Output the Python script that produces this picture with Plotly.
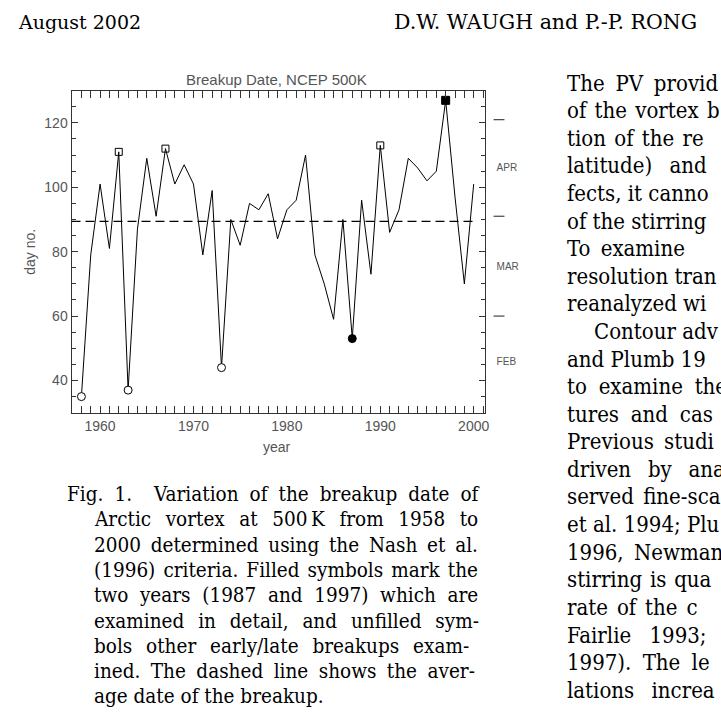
import plotly.graph_objects as go

W, H = 721, 712

years = list(range(1958, 2001))
days = [35, 79, 101, 81, 111, 37, 87, 109, 91, 112,
        101, 107, 101, 79, 99, 44, 90, 82, 95, 93,
        98, 84, 93, 96, 110, 79, 70, 59, 90, 53,
        96, 73, 113, 86, 93, 109, 106, 102, 105, 127,
        97, 70, 101]

open_circle_years = [1958, 1963, 1973]
open_square_years = [1962, 1967, 1990]
filled_circle_years = [1987]
filled_square_years = [1997]

month_bounds = [60, 91, 121]
month_mids = [46, 75.5, 106]
month_names = ["FEB", "MAR", "APR"]

caption = [
    "Fig. 1.\u00a0 Variation of the breakup date of",
    "Arctic vortex at 500\u2009K from 1958 to",
    "2000 determined using the Nash et al.",
    "(1996) criteria. Filled symbols mark the",
    "two years (1987 and 1997) which are",
    "examined in detail, and unfilled sym-",
    "bols other early/late breakups exam-",
    "ined. The dashed line shows the aver-",
    "age date of the breakup.",
]

body = [
    "The PV provid", "of the vortex b", "tion of the re", "latitude) and",
    "fects, it canno", "of the stirring", "To examine", "resolution tran",
    "reanalyzed wi", "Contour adv", "and Plumb 19", "to examine the",
    "tures and cas", "Previous studi", "driven by ana", "served fine-sca",
    "et al. 1994; Plu", "1996, Newman", "stirring is qua", "rate of the c",
    "Fairlie 1993;", "1997). The le", "lations increa",
]

# extra word spacing (px) that justifies each printed line
caption_ws = [5.2, 8.7, 3.9, 2.2, 5.8, 8, 8, 4.6, 0]
body_ws = [4.5, 2, 2, 11, 0, 0, 4, 0, 0, 0, 0, 5.5,
           5.5, 4, 10.5, 3, 0, 4, 1.5, 2.7, 12, 5, 11]

mean_day = sum(days) / len(days)


def px(x):
    return x / W


def py(y):
    return 1 - y / H


def pick(sel):
    return [d for yr, d in zip(years, days) if yr in sel]


fig = go.Figure()

fig.add_trace(go.Scatter(x=years, y=days, mode="lines",
                         line=dict(color="black", width=1), showlegend=False))

marker_sets = [
    (open_circle_years, "circle", "white", 8),
    (open_square_years, "square-open", "black", 7),
    (filled_circle_years, "circle", "black", 8),
    (filled_square_years, "square", "black", 8),
]
for sel, sym, fill, size in marker_sets:
    fig.add_trace(go.Scatter(
        x=sel, y=pick(sel), mode="markers", showlegend=False,
        marker=dict(symbol=sym, size=size, color=fill,
                    line=dict(color="black", width=1))))

# dummy trace so the right-hand month axis is drawn
fig.add_trace(go.Scatter(x=[None], y=[None], yaxis="y2", showlegend=False))

# average line
fig.add_shape(type="line", xref="x", yref="y", x0=1956.94, x1=2000.3,
              y0=mean_day, y1=mean_day,
              line=dict(color="black", width=1.4, dash="9px,5px"))

# month boundary marks on the right
for b in month_bounds:
    fig.add_shape(type="line", xref="paper", yref="y", x0=px(497), x1=px(508),
                  y0=b, y1=b, line=dict(color="#444", width=1.2))

sans = "Liberation Sans"
tickfont = dict(family=sans, size=14, color="#555")

fig.update_layout(
    width=W, height=H,
    margin=dict(l=0, r=0, t=0, b=0),
    paper_bgcolor="white", plot_bgcolor="white",
    xaxis=dict(domain=[px(72), px(488)], range=[1956.94, 2001.17],
               tickvals=[1960, 1970, 1980, 1990, 2000],
               ticks="inside", ticklen=7, tickcolor="#333",
               showline=True, linecolor="#333", linewidth=1, mirror="allticks",
               showgrid=False, zeroline=False, tickfont=tickfont,
               minor=dict(dtick=1, ticks="inside", ticklen=4, tickcolor="#333")),
    yaxis=dict(domain=[py(413), py(91)], range=[29.9, 129.9],
               tick0=0, dtick=20,
               ticks="inside", ticklen=6, tickcolor="#333",
               showline=True, linecolor="#333", linewidth=1, mirror="allticks",
               showgrid=False, zeroline=False, tickfont=tickfont,
               minor=dict(dtick=5, ticks="inside", ticklen=4, tickcolor="#333")),
    yaxis2=dict(overlaying="y", side="right", anchor="x", range=[29.9, 129.9],
                tickvals=month_mids, ticktext=month_names, ticks="",
                showline=False, showgrid=False, zeroline=False,
                ticklabelstandoff=11,
                tickfont=dict(family=sans, size=10, color="#555")),
)

ann = []
ann.append(dict(text="Breakup Date, NCEP 500K", x=px(278), y=py(79),
                font=dict(family=sans, size=15, color="#555")))
ann.append(dict(text="day no.", x=px(30), y=py(252), textangle=-90,
                font=dict(family=sans, size=14, color="#555")))
ann.append(dict(text="year", x=px(279), y=py(447),
                font=dict(family=sans, size=14, color="#555")))

serif = "DejaVu Serif"
page_font = "DejaVu Serif Condensed"
ann.append(dict(text="August 2002", x=px(18), y=py(22), xanchor="left",
                font=dict(family=serif, size=19, color="black")))
ann.append(dict(text="D.W. WAUGH and P.-P. RONG", x=px(702), y=py(22),
                xanchor="right", font=dict(family=serif, size=20.5, color="black")))


def spaced(text, ws):
    if not ws:
        return text
    return '<span style="word-spacing:%.1fpx">%s</span>' % (ws, text)


for i, (line, ws) in enumerate(zip(caption, caption_ws)):
    x0 = 67 if i == 0 else 95
    ann.append(dict(text=spaced(line, ws), x=px(x0), y=py(494 + 25.3 * i),
                    xanchor="left",
                    font=dict(family=page_font, size=20.5, color="black")))

for i, (line, ws) in enumerate(zip(body, body_ws)):
    x0 = 598 if i == 9 else 571
    ann.append(dict(text=spaced(line, ws), x=px(x0), y=py(83 + 27.6 * i),
                    xanchor="left",
                    font=dict(family=page_font, size=22, color="black")))

for a in ann:
    a.setdefault("xanchor", "center")
    a.update(xref="paper", yref="paper", yanchor="middle", showarrow=False,
             borderpad=0, borderwidth=0)
fig.update_layout(annotations=ann)

fig.write_html("out.html", config={"displayModeBar": False},
               post_script="document.body.style.margin='0';")
